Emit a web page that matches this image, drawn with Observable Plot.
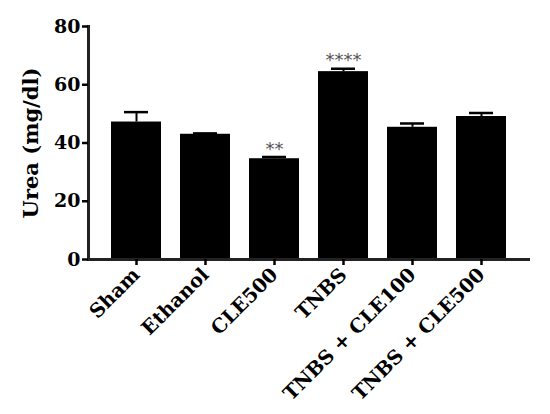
<!DOCTYPE html>
<html>
<head>
<meta charset="utf-8">
<script src="https://cdn.jsdelivr.net/npm/d3@7"></script>
<script src="https://cdn.jsdelivr.net/npm/@observablehq/plot@0.6"></script>
<style>
  html, body { margin: 0; padding: 0; background: #fff; }
</style>
</head>
<body>
<div id="chart"></div>
<script>
const groups = ["Sham", "Ethanol", "CLE500", "TNBS", "TNBS + CLE100", "TNBS + CLE500"];
const means = [47.2, 43.0, 34.6, 64.5, 45.4, 49.1];
const errors = [3.4, 0.3, 0.6, 1.0, 1.3, 1.2];
const stars = ["", "", "**", "****", "", ""];
const yTicks = [0, 20, 40, 60, 80];

const data = groups.map((g, i) => ({g, m: means[i], e: errors[i], s: stars[i]}));

const chart = Plot.plot({
  width: 550,
  height: 414,
  marginLeft: 88,
  marginRight: 22,
  marginTop: 26,
  marginBottom: 155,
  style: {fontFamily: "DejaVu Serif", fontWeight: "bold", fontSize: "16px", color: "black", background: "white"},
  x: {domain: groups, paddingInner: 0.28, paddingOuter: 0.32, label: null},
  y: {domain: [0, 80], label: null},
  marks: [
    Plot.barY(data, {x: "g", y: "m", fill: "black"}),
    Plot.ruleX(data, {x: "g", y1: "m", y2: d => d.m + d.e, stroke: "black", strokeWidth: 2}),
    Plot.tickY(data, {x: "g", y: d => d.m + d.e, stroke: "black", strokeWidth: 2.5, insetLeft: 13, insetRight: 13}),
    Plot.text(data, {x: "g", y: d => d.m + d.e, text: "s", dy: -8, fill: "#555", fontSize: 18, fontWeight: "normal", fontFamily: "DejaVu Sans", letterSpacing: "2px"}),
    Plot.frame({anchor: "left", stroke: "#222", strokeWidth: 3}),
    Plot.frame({anchor: "bottom", stroke: "#222", strokeWidth: 3}),
    Plot.axisY({ticks: yTicks, tickSize: 6, tickPadding: 2, fontSize: 19, strokeWidth: 2.5, label: null}),
    Plot.axisX({tickSize: 6, tickRotate: -45, tickPadding: 6, fontSize: 19.5, strokeWidth: 2.5, label: null}),
    Plot.text(["Urea (mg/dl)"], {frameAnchor: "left", dx: -57, rotate: -90, textAnchor: "middle", fontSize: 21, fontWeight: "bold"})
  ]
});
document.getElementById("chart").appendChild(chart);
</script>
</body>
</html>
